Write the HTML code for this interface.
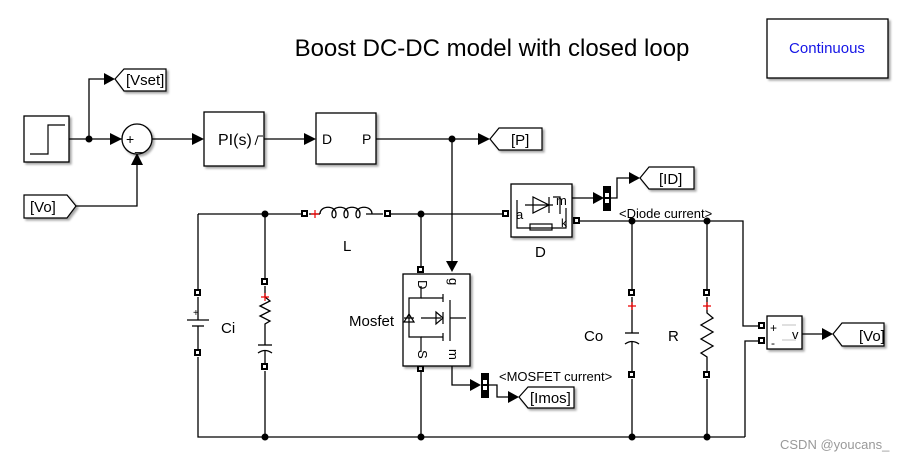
<!DOCTYPE html>
<html><head><meta charset="utf-8"><style>
html,body{margin:0;padding:0;background:#fff;width:920px;height:460px;overflow:hidden}
text{font-family:"Liberation Sans",sans-serif}
</style></head><body>
<svg width="920" height="460" viewBox="0 0 920 460" xmlns="http://www.w3.org/2000/svg">
<defs>
<filter id="sh" x="-10%" y="-10%" width="130%" height="130%"><feDropShadow dx="2" dy="2" stdDeviation="1" flood-color="#000" flood-opacity="0.35"/></filter>
</defs>
<g fill="none" stroke="#000" stroke-width="1.3">
<path d="M69 139H122"/>
<path d="M89 139V79H104"/>
<path d="M152 139H194"/>
<path d="M76 206H137V163"/>
<path d="M264 139H306"/>
<path d="M376 139H480"/>
<path d="M452 139V262"/>
<path d="M198 214H301"/><path d="M391 214H502"/>
<path d="M198 214V289"/><path d="M198 357V437H745"/>
<path d="M265 214V278"/><path d="M265 371V437"/>
<path d="M421 214V266"/><path d="M421 371V437"/>
<path d="M580 221H743V326H758"/>
<path d="M745 437V341H758"/>
<path d="M632 221V289"/><path d="M632 379V437"/>
<path d="M707 221V289"/><path d="M707 379V437"/>
<!-- inductor -->
<path d="M309 214H320"/><path d="M366 214H383"/>
<path d="M320 214c0-9 16-9 16 0c0 5-4 5-4 0c0-9 16-9 16 0c0 5-4 5-4 0c0-9 16-9 16 0c0 5-4 5-4 0c0-9 16-9 16 0"/>
<path d="M199 214H198"/>
<!-- battery -->
<path d="M198 297V320"/><path d="M187 320H209"/><path d="M192 326H204"/><path d="M198 326V349"/>
<!-- Ci branch -->
<path d="M265 286V297l5 4-10 5 10 5-10 5 10 5-5 3V345"/>
<path d="M258 345H272"/><path d="M258 353q7-5 14 0"/><path d="M265 351V363"/>
<!-- Co -->
<path d="M632 297V333"/><path d="M625 333H639"/><path d="M625 344q7-5 14 0"/><path d="M632 342V371"/>
<!-- R -->
<path d="M707 297V313l6 5-12 7 12 7-12 7 12 7-12 7 6 4V371"/>
<path d="M452 366V385H472"/>
<path d="M489 385H497V397H508"/>
<path d="M572 198H595"/>
<path d="M610 198H617V178H630"/>
<path d="M802 334H824"/>
</g>
<g fill="#000">
<circle cx="89" cy="139" r="3.5"/><circle cx="452" cy="139" r="3.5"/>
<circle cx="265" cy="214" r="3.5"/><circle cx="421" cy="214" r="3.5"/>
<circle cx="632" cy="221" r="3.5"/><circle cx="707" cy="221" r="3.5"/>
<circle cx="265" cy="437" r="3.5"/><circle cx="421" cy="437" r="3.5"/>
<circle cx="632" cy="437" r="3.5"/><circle cx="707" cy="437" r="3.5"/>
<path d="M104 73L115 79L104 85Z"/>
<path d="M110 133L122 139L110 145Z"/>
<path d="M131 165L137 153L143 165Z"/>
<path d="M192 133L204 139L192 145Z"/>
<path d="M304 133L316 139L304 145Z"/>
<path d="M478 133L490 139L478 145Z"/>
<path d="M446 261L452 272L458 261Z"/>
<path d="M470 379L481 385L470 391Z"/>
<path d="M508 391L519 397L508 403Z"/>
<path d="M593 192L604 198L593 204Z"/>
<path d="M629 172L640 178L629 184Z"/>
<path d="M822 328L833 334L822 340Z"/>
<rect x="481" y="373" width="8" height="25"/>
<rect x="603" y="186" width="8" height="25"/>
</g>
<g fill="#fff"><rect x="483" y="380" width="4" height="4"/><rect x="483" y="386" width="4" height="4"/>
<rect x="605" y="193" width="4" height="4"/><rect x="605" y="199" width="4" height="4"/></g>
<g fill="#fff" stroke="#000" stroke-width="2">
<rect x="302" y="211" width="5" height="5"/><rect x="385" y="211" width="5" height="5"/>
<rect x="195" y="290" width="5" height="5"/><rect x="195" y="350" width="5" height="5"/>
<rect x="262" y="279" width="5" height="5"/><rect x="262" y="364" width="5" height="5"/>
<rect x="418" y="267" width="5" height="5"/><rect x="418" y="366" width="5" height="5"/>
<rect x="503" y="211" width="5" height="5"/><rect x="574" y="218" width="5" height="5"/>
<rect x="629" y="290" width="5" height="5"/><rect x="629" y="372" width="5" height="5"/>
<rect x="704" y="290" width="5" height="5"/><rect x="704" y="372" width="5" height="5"/>
<rect x="759" y="323" width="5" height="5"/><rect x="759" y="338" width="5" height="5"/>
</g>
<g stroke="#e00" stroke-width="1.2">
<path d="M315 210V218M311 214H319"/>
<path d="M265 293V301M261 297H269"/>
<path d="M632 302V310M628 306H636"/>
<path d="M707 302V310M703 306H711"/>
</g>
<g fill="#fff" stroke="#000" stroke-width="1.3" filter="url(#sh)">
<rect x="767" y="19" width="121" height="59"/>
<rect x="24" y="116" width="45" height="46"/>
<circle cx="137" cy="139" r="15"/>
<rect x="204" y="112" width="60" height="54"/>
<rect x="316" y="113" width="60" height="51"/>
<rect x="511" y="184" width="61" height="53"/>
<rect x="403" y="274" width="67" height="92"/>
<rect x="767" y="316" width="35" height="33"/>
</g>
<g fill="#fff" stroke="#000" stroke-width="1.2" filter="url(#sh)">
<path d="M115 79L124 69H166V91H124Z"/>
<path d="M490 139L499 128H542V150H499Z"/>
<path d="M640 178L649 167H694V189H649Z"/>
<path d="M519 397L528 387H574V408H528Z"/>
<path d="M833 334L842 323H884V346H842Z"/>
<path d="M24 195H67L76 206L67 218H24Z"/>
</g>
<g fill="none" stroke="#000" stroke-width="1.2">
<path d="M30 154H48V125H65"/>
<path d="M525 205H553M533 197V213L549 205Z M549 197V213"/>
<path d="M517 200V228H566V208"/><rect x="530" y="224" width="22" height="6"/>
<path d="M553 197H560V214"/>
<path d="M421 286V298H409V337H421V352"/>
<path d="M421 298H443M421 337H443M443 294V302M443 333V341"/>
<path d="M421 318H441M436 312L443 318L436 324Z M443 312V324"/>
<path d="M450 300V341M450 318H466"/>
<path d="M404 318H414M404 322H414L409 314Z"/>
<path d="M782 325H796" stroke="#ccc"/><path d="M782 340H796" stroke="#ccc"/>
</g>
<g fill="#000">
<text x="492" y="56" font-size="24" text-anchor="middle">Boost DC-DC model with closed loop</text>
<text x="827" y="53" font-size="15" text-anchor="middle" fill="#1515e6">Continuous</text>
<text x="126" y="85" font-size="15">[Vset]</text>
<text x="30" y="212" font-size="15">[Vo]</text>
<text x="126" y="144" font-size="14">+</text><text x="135" y="150" font-size="14">_</text>
<text x="218" y="145" font-size="16">PI(s)</text>
<path d="M255 145l3-9h5" fill="none" stroke="#000"/>
<text x="322" y="144" font-size="14">D</text><text x="362" y="144" font-size="14">P</text>
<text x="511" y="145" font-size="15">[P]</text>
<text x="659" y="184" font-size="15">[ID]</text>
<text x="530" y="403" font-size="15">[Imos]</text>
<text x="859" y="341" font-size="15">[Vo]</text>
<text x="343" y="251" font-size="15">L</text>
<text x="221" y="333" font-size="15">Ci</text>
<text x="349" y="326" font-size="15">Mosfet</text>
<text x="584" y="341" font-size="15">Co</text>
<text x="668" y="341" font-size="15">R</text>
<text x="535" y="257" font-size="15">D</text>
<text x="516" y="219" font-size="13">a</text>
<text x="556" y="205" font-size="13">m</text>
<text x="561" y="227" font-size="12">k</text>
<text x="619" y="218" font-size="13">&lt;Diode current&gt;</text>
<text x="499" y="381" font-size="13">&lt;MOSFET current&gt;</text>
<text x="770" y="332" font-size="12">+</text><text x="771" y="347" font-size="12">-</text>
<text x="792" y="339" font-size="13">v</text>
<text x="193" y="316" font-size="10">+</text>
<text x="416" y="288" font-size="13" transform="rotate(90 421 285)">D</text>
<text x="448" y="285" font-size="13" transform="rotate(90 452 282)">g</text>
<text x="416" y="358" font-size="13" transform="rotate(90 421 355)">S</text>
<text x="446" y="358" font-size="13" transform="rotate(90 452 355)">m</text>
<text x="780" y="449" font-size="13" fill="#999">CSDN @youcans_</text>
</g>
</svg>
</body></html>
